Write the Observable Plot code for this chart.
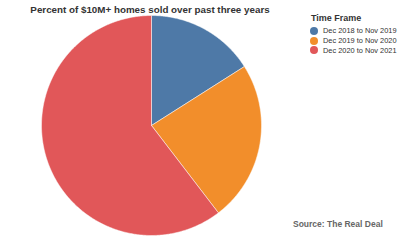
<!DOCTYPE html>
<html>
<head>
<meta charset="utf-8">
<script src="https://cdn.jsdelivr.net/npm/d3@7"></script>
<script src="https://cdn.jsdelivr.net/npm/@observablehq/plot@0.6"></script>
<style>
  html, body { margin: 0; padding: 0; background: #fff; }
  #wrap { position: relative; width: 400px; height: 240px; font-family: "Liberation Sans", Arial, sans-serif; }
  #chart { position: absolute; left: 0; top: 0; }
  .title { position: absolute; left: 0; width: 300px; top: 4px; text-align: center; font-weight: bold; font-size: 9.8px; color: #333; }
  .legend { position: absolute; left: 308px; top: 13px; font-size: 7.4px; color: #333; }
  .legend .lt { font-weight: bold; font-size: 9px; margin-bottom: 3px; margin-left: 3px; }
  .legend .it { display: flex; align-items: center; height: 9.7px; }
  .legend .sw { width: 8px; height: 8px; border-radius: 50%; margin-left: 2px; margin-right: 5px; }
  .source { position: absolute; left: 293px; top: 219px; font-size: 8.5px; font-weight: bold; color: #666; }
</style>
</head>
<body>
<div id="wrap">
  <div id="chart"></div>
  <div class="title">Percent of $10M+ homes sold over past three years</div>
  <div class="legend" id="legend"></div>
  <div class="source">Source: The Real Deal</div>
</div>
<script>
const categories = ["Dec 2018 to Nov 2019", "Dec 2019 to Nov 2020", "Dec 2020 to Nov 2021"];
const values = [16, 23.6, 60.4];
const colors = ["#4e79a7", "#f28e2b", "#e15759"];
const legendTitle = "Time Frame";

const arcs = d3.pie().sort(null).value(d => d.value)(categories.map((c, i) => ({category: c, value: values[i]})));
const pts = [];
for (const a of arcs) {
  const n = Math.max(2, Math.ceil((a.endAngle - a.startAngle) / 0.01));
  pts.push({category: a.data.category, x: 0, y: 0});
  for (let k = 0; k <= n; k++) {
    const t = a.startAngle + (a.endAngle - a.startAngle) * k / n;
    pts.push({category: a.data.category, x: Math.sin(t), y: Math.cos(t)});
  }
  pts.push({category: a.data.category, x: 0, y: 0});
}

const chart = Plot.plot({
  width: 400,
  height: 240,
  marginLeft: 41,
  marginRight: 139,
  marginTop: 15,
  marginBottom: 5,
  x: {domain: [-1, 1], axis: null},
  y: {domain: [-1, 1], axis: null},
  color: {domain: categories, range: colors},
  marks: [
    Plot.line(pts, {x: "x", y: "y", z: "category", fill: "category", stroke: "white", strokeWidth: 0.5, curve: "linear"})
  ]
});
document.getElementById("chart").appendChild(chart);

const lg = document.getElementById("legend");
const t = document.createElement("div"); t.className = "lt"; t.textContent = legendTitle; lg.appendChild(t);
categories.forEach((c, i) => {
  const it = document.createElement("div"); it.className = "it";
  const sw = document.createElement("span"); sw.className = "sw"; sw.style.background = chart.scale("color").apply(c);
  const tx = document.createElement("span"); tx.textContent = c;
  it.appendChild(sw); it.appendChild(tx); lg.appendChild(it);
});
</script>
</body>
</html>
